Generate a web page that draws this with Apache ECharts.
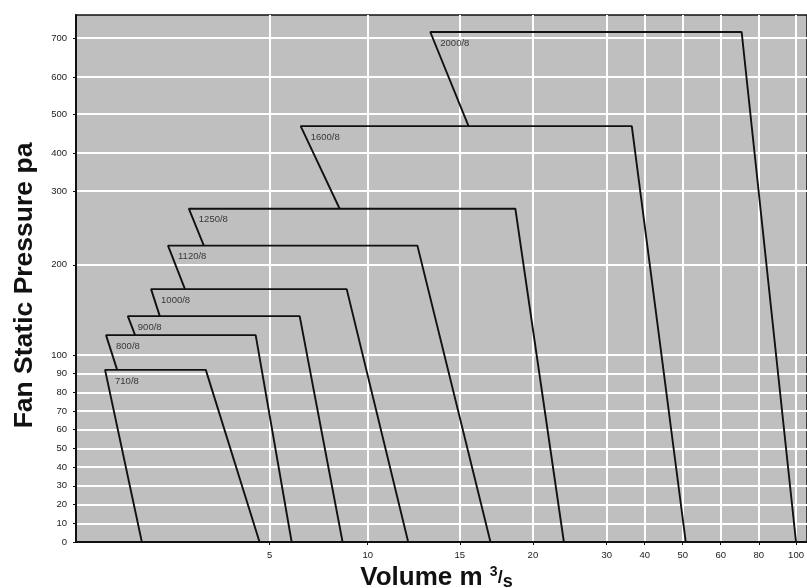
<!DOCTYPE html>
<html>
<head>
<meta charset="utf-8">
<script src="https://cdn.jsdelivr.net/npm/echarts@6/dist/echarts.min.js"></script>
<style>
  html, body { margin: 0; background: #fff; }
  #chart { width: 807px; height: 588px; }
</style>
</head>
<body>
<div id="chart"></div>
<script>
// fan models (8 pole)
const fans = ['710/8', '800/8', '900/8', '1000/8', '1120/8', '1250/8', '1600/8', '2000/8'];
// top edge of every envelope, Pa
const topPressure = [92, 122, 143, 173, 226, 276, 469, 716];
// volume m3/s at the envelope corners
const leftLow = [2.36, 1.85, 2.22, 2.73, 3.25, 3.64, 8.57, 15.6];   // left edge, bottom end
const leftHigh = [1.6, 1.62, 2.07, 2.55, 2.9, 3.33, 6.58, 13.4];    // left edge, top end
const rightHigh = [3.68, 4.71, 6.53, 8.93, 12.7, 18.8, 36.6, 71];   // right edge, top end
const rightLow = [4.79, 6.12, 8.72, 12.2, 17.1, 24.2, 50.8, 100];   // right edge at 0 Pa

const xTicks = [5, 10, 15, 20, 30, 40, 50, 60, 80, 100];
const yTicks = [0, 10, 20, 30, 40, 50, 60, 70, 80, 90, 100, 200, 300, 400, 500, 600, 700];

// the printed chart uses stretched scales: break value -> share of axis length
const xBreaks = [1, 5, 10, 15, 20, 30, 40, 50, 60, 80, 100, 106];
const xShare = [0, 0.265, 0.399, 0.525, 0.625, 0.726, 0.778, 0.830, 0.882, 0.934, 0.985, 1];
const yBreaks = [0, 100, 200, 300, 400, 500, 600, 700, 760];
const yShare = [0, 0.355, 0.526, 0.666, 0.738, 0.812, 0.882, 0.956, 1];

function piecewise(v, breaks, share) {
  for (let i = 1; i < breaks.length; i++) {
    if (v <= breaks[i] || i === breaks.length - 1) {
      const t = (v - breaks[i - 1]) / (breaks[i] - breaks[i - 1]);
      return share[i - 1] + t * (share[i] - share[i - 1]);
    }
  }
}
const X = v => piecewise(v, xBreaks, xShare);
const Y = v => piecewise(v, yBreaks, yShare);

// label for a tick: pick the tick that sits nearest to the axis position
function tickName(ticks, f) {
  return u => {
    let best = ticks[0];
    ticks.forEach(t => { if (Math.abs(f(t) - u) < Math.abs(f(best) - u)) best = t; });
    return String(best);
  };
}

const series = fans.map((name, i) => ({
  name,
  type: 'line',
  symbol: 'none',
  silent: true,
  lineStyle: { color: '#111', width: 1.9 },
  data: [
    [X(leftLow[i]), Y(i ? topPressure[i - 1] : 0)],
    [X(leftHigh[i]), Y(topPressure[i])],
    [X(rightHigh[i]), Y(topPressure[i])],
    [X(rightLow[i]), Y(0)]
  ]
}));

// model names, just under the top-left corner
series.push({
  type: 'scatter',
  symbolSize: 0,
  silent: true,
  data: fans.map((name, i) => [X(leftHigh[i]), Y(topPressure[i]), name]),
  label: {
    show: true,
    position: 'right',
    distance: 0,
    offset: [10, 11],
    formatter: p => p.data[2],
    fontSize: 9.5,
    fontFamily: 'Liberation Sans',
    color: '#111'
  }
});

const axisCommon = {
  type: 'value',
  min: 0,
  max: 1,
  axisLine: { show: true, lineStyle: { color: '#111', width: 2 } },
  axisTick: { show: true, length: 3, lineStyle: { color: '#111', width: 1 } },
  splitLine: { show: true, lineStyle: { color: '#fff', width: 2 } },
  axisLabel: { fontSize: 9.5, fontFamily: 'Liberation Sans', color: '#222' }
};

const option = {
  animation: false,
  grid: {
    left: 76, right: 0, top: 15, bottom: 46,
    outerBoundsMode: 'none',
    containLabel: false,
    show: true,
    backgroundColor: '#bfbfbf',
    borderColor: '#111',
    borderWidth: 1.5
  },
  xAxis: Object.assign({}, axisCommon, {
    axisTick: Object.assign({}, axisCommon.axisTick, { customValues: xTicks.map(X) }),
    axisLabel: Object.assign({}, axisCommon.axisLabel, {
      customValues: xTicks.map(X), formatter: tickName(xTicks, X), margin: 8
    }),
    name: '{m|Volume m }{sup|3}{m2|/}{sub|s}',
    nameLocation: 'middle',
    nameGap: 19,
    nameTextStyle: {
      padding: [0, 10, 0, 0],
      rich: {
        m: { fontSize: 26, fontWeight: 'bold', fontFamily: 'Liberation Sans', color: '#111' },
        sup: { fontSize: 14, fontWeight: 'bold', fontFamily: 'Liberation Sans', color: '#111', verticalAlign: 'top' },
        m2: { fontSize: 18, fontWeight: 'bold', fontFamily: 'Liberation Sans', color: '#111' },
        sub: { fontSize: 18, fontWeight: 'bold', fontFamily: 'Liberation Sans', color: '#111', verticalAlign: 'bottom' }
      }
    }
  }),
  yAxis: Object.assign({}, axisCommon, {
    axisTick: Object.assign({}, axisCommon.axisTick, { customValues: yTicks.map(Y) }),
    axisLabel: Object.assign({}, axisCommon.axisLabel, {
      customValues: yTicks.map(Y), formatter: tickName(yTicks, Y), margin: 9
    }),
    name: 'Fan Static Pressure pa',
    nameLocation: 'middle',
    nameGap: 38,
    nameTextStyle: {
      fontSize: 26.5, fontWeight: 'bold', fontFamily: 'Liberation Sans', color: '#111',
      padding: [0, 14, 0, 0]
    }
  }),
  series
};

const myChart = echarts.init(document.getElementById('chart'));
myChart.setOption(option);
window.addEventListener('resize', () => myChart.resize());
</script>
</body>
</html>
